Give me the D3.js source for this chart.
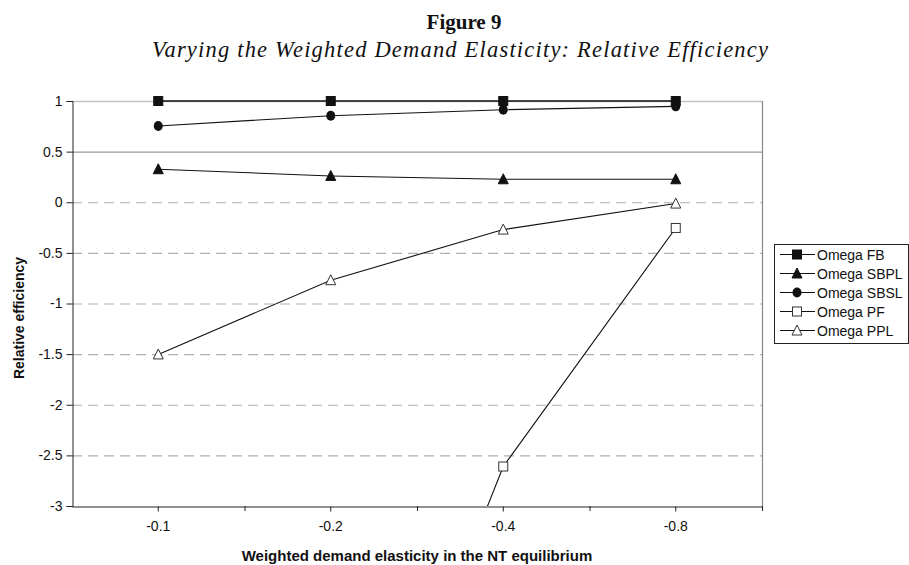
<!DOCTYPE html>
<html>
<head>
<meta charset="utf-8">
<script src="https://cdn.jsdelivr.net/npm/d3@7"></script>
<style>
  body { margin: 0; background: #fff; }
  svg { display: block; }
  text { font-family: "Liberation Sans", Arial, sans-serif; fill: #111; }
</style>
</head>
<body>
<div id="chart"></div>
<script>
const categories = ['-0.1', '-0.2', '-0.4', '-0.8'];
const yTicks = [1, 0.5, 0, -0.5, -1, -1.5, -2, -2.5, -3];

const omegaFB = [1, 1, 1, 1];
const omegaSBPL = [0.326, 0.26, 0.227, 0.227];
const omegaSBSL = [0.753, 0.855, 0.914, 0.947];
const omegaPF = [null, -6.9, -2.61, -0.254];
const omegaPPL = [-1.503, -0.77, -0.27, -0.013];

const seriesNames = ['Omega FB', 'Omega SBPL', 'Omega SBSL', 'Omega PF', 'Omega PPL'];
const seriesValues = [omegaFB, omegaSBPL, omegaSBSL, omegaPF, omegaPPL];
const markerKinds = ['square', 'triangle', 'circle', 'openSquare', 'openTriangle'];

const width = 909;
const height = 565;
const plot = { left: 72, right: 762, top: 101, bottom: 506 };

const svg = d3.select('#chart').append('svg')
  .attr('width', width)
  .attr('height', height);

const x = d3.scaleBand()
  .domain(categories)
  .range([plot.left, plot.right]);

const y = d3.scaleLinear()
  .domain([-3, 1])
  .range([plot.bottom, plot.top]);

// titles
svg.append('text')
  .attr('x', 464).attr('y', 29)
  .attr('text-anchor', 'middle')
  .style('font-family', '"Liberation Serif", "Times New Roman", serif')
  .style('font-weight', 'bold')
  .style('font-size', '21px')
  .text('Figure 9');

svg.append('text')
  .attr('x', 152).attr('y', 57)
  .attr('textLength', 616)
  .attr('lengthAdjust', 'spacing')
  .style('font-family', '"Liberation Serif", "Times New Roman", serif')
  .style('font-style', 'italic')
  .style('font-size', '22.5px')
  .text('Varying the Weighted Demand Elasticity: Relative Efficiency');

// gridlines
svg.append('g').selectAll('line')
  .data(yTicks.filter(d => d > -3))
  .join('line')
  .attr('x1', plot.left).attr('x2', plot.right)
  .attr('y1', d => y(d) + 0.5).attr('y2', d => y(d) + 0.5)
  .attr('stroke', d => d === 1 ? '#c4c4c4' : (d === 0.5 ? '#9a9a9a' : '#b0b0b0'))
  .attr('stroke-width', d => d === 1 ? 1.5 : 1.2)
  .attr('stroke-dasharray', d => d >= 0.5 ? null : '10,6');

// right border of plot area
svg.append('line')
  .attr('x1', plot.right + 0.5).attr('x2', plot.right + 0.5)
  .attr('y1', plot.top).attr('y2', plot.bottom)
  .attr('stroke', '#888').attr('stroke-width', 1.2);

// y axis
const yAxis = d3.axisLeft(y)
  .tickValues(yTicks)
  .tickSize(6)
  .tickPadding(4)
  .tickFormat(d => String(d));

svg.append('g')
  .attr('transform', `translate(${plot.left + 0.5},0)`)
  .call(yAxis)
  .call(g => g.select('.domain').attr('stroke', '#222'))
  .call(g => g.selectAll('.tick line').attr('stroke', '#222'))
  .call(g => g.selectAll('.tick text')
    .style('font-family', '"Liberation Sans", Arial, sans-serif')
    .style('font-size', '14px')
    .attr('fill', '#111'));

// x axis
const xAxis = d3.axisBottom(x)
  .tickSize(5)
  .tickSizeOuter(0)
  .tickPadding(10);

svg.append('g')
  .attr('transform', `translate(0,${plot.bottom + 0.5})`)
  .call(xAxis)
  .call(g => g.select('.domain').attr('stroke', '#222'))
  .call(g => g.selectAll('.tick line').attr('stroke', '#222'))
  .call(g => g.selectAll('.tick text')
    .style('font-family', '"Liberation Sans", Arial, sans-serif')
    .style('font-size', '14px')
    .attr('fill', '#111'));

// boundary ticks between categories
const bounds = categories.map(c => x(c)).concat([plot.right]).slice(1);
svg.append('g').selectAll('line')
  .data(bounds)
  .join('line')
  .attr('x1', d => d + 0.5).attr('x2', d => d + 0.5)
  .attr('y1', plot.bottom).attr('y2', plot.bottom + 5)
  .attr('stroke', '#222');

// axis titles
svg.append('text')
  .attr('transform', 'translate(24,318) rotate(-90)')
  .attr('text-anchor', 'middle')
  .style('font-weight', 'bold')
  .style('font-size', '14px')
  .text('Relative efficiency');

svg.append('text')
  .attr('x', (plot.left + plot.right) / 2)
  .attr('y', 561)
  .attr('text-anchor', 'middle')
  .style('font-weight', 'bold')
  .style('font-size', '15px')
  .text('Weighted demand elasticity in the NT equilibrium');

// series
svg.append('clipPath').attr('id', 'plotClip')
  .append('rect')
  .attr('x', plot.left).attr('y', plot.top - 8)
  .attr('width', plot.right - plot.left + 8)
  .attr('height', plot.bottom - plot.top + 8);

const cx = c => x(c) + x.bandwidth() / 2;

const line = d3.line()
  .defined(d => d.v !== null)
  .x(d => cx(d.c))
  .y(d => y(d.v));

function drawMarker(sel, kind) {
  if (kind === 'square' || kind === 'openSquare') {
    sel.append('rect')
      .attr('x', -4.5).attr('y', -4.5)
      .attr('width', 9).attr('height', 9)
      .attr('fill', kind === 'square' ? '#111' : '#fff')
      .attr('stroke', kind === 'square' ? '#111' : '#333')
      .attr('stroke-width', 1);
  } else if (kind === 'triangle' || kind === 'openTriangle') {
    sel.append('path')
      .attr('d', 'M0,-5.5L5,4.5L-5,4.5Z')
      .attr('fill', kind === 'triangle' ? '#111' : '#fff')
      .attr('stroke', kind === 'triangle' ? '#111' : '#333')
      .attr('stroke-width', 1);
  } else {
    sel.append('ellipse')
      .attr('rx', 4.5).attr('ry', 5)
      .attr('fill', '#111');
  }
}

const seriesG = svg.append('g').attr('clip-path', 'url(#plotClip)');

seriesValues.forEach((vals, i) => {
  const pts = categories.map((c, j) => ({ c: c, v: vals[j] }));
  seriesG.append('path')
    .datum(pts)
    .attr('d', line)
    .attr('fill', 'none')
    .attr('stroke', '#111')
    .attr('stroke-width', i === 0 ? 1.6 : 1.1);
});

seriesValues.forEach((vals, i) => {
  const pts = categories.map((c, j) => ({ c: c, v: vals[j] })).filter(d => d.v !== null);
  seriesG.selectAll(null)
    .data(pts)
    .join('g')
    .attr('transform', d => `translate(${cx(d.c)},${y(d.v)})`)
    .each(function() { drawMarker(d3.select(this), markerKinds[i]); });
});

// legend
const legend = svg.append('g');
legend.append('rect')
  .attr('x', 774.5).attr('y', 244.5)
  .attr('width', 134).attr('height', 99)
  .attr('fill', '#fff')
  .attr('stroke', '#222');

seriesNames.forEach((name, i) => {
  const ly = 254 + i * 19;
  const row = legend.append('g');
  row.append('line')
    .attr('x1', 780).attr('x2', 815)
    .attr('y1', ly + 0.5).attr('y2', ly + 0.5)
    .attr('stroke', '#111');
  const m = row.append('g').attr('transform', `translate(797,${ly + 0.5})`);
  drawMarker(m, markerKinds[i]);
  row.append('text')
    .attr('x', 817).attr('y', ly + 5.5)
    .style('font-size', '14px')
    .text(name);
});
</script>
</body>
</html>
